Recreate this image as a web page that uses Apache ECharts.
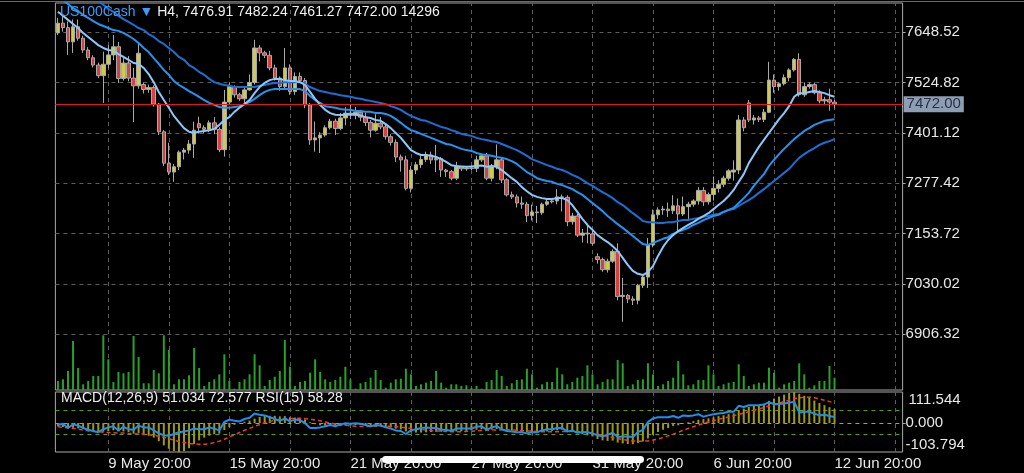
<!DOCTYPE html>
<html>
<head>
<meta charset="utf-8">
<script src="https://cdn.jsdelivr.net/npm/echarts@6/dist/echarts.min.js"></script>
<style>
html,body{margin:0;padding:0;background:#000;}
#c{width:1024px;height:473px;}
</style>
</head>
<body>
<div id="c"></div>
<script>
// ---------- data ----------
const symbolName = 'US100Cash';
const timeframe = 'H4';
const tradingDays = ['8 May','9 May','10 May','13 May','14 May','15 May','16 May','17 May','20 May','21 May','22 May','23 May','24 May','27 May','28 May','29 May','30 May','31 May','3 Jun','4 Jun','5 Jun','6 Jun','7 Jun','10 Jun','11 Jun','12 Jun','13 Jun','14 Jun','17 Jun'];
const barHours = ['00:00','04:00','08:00','12:00','16:00','20:00'];

const opens = [
7647,7671,7660,7625,7662,7634,7605,7586,7568,7542,
7570,7593,7613,7535,7573,7536,7517,7520,7508,7513,
7472,7404,7327,7305,7318,7354,7359,7374,7424,7414,
7410,7426,7410,7360,7477,7515,7495,7485,7507,7525,
7610,7598,7592,7561,7536,7515,7561,7503,7540,7530,
7470,7384,7389,7396,7414,7430,7412,7438,7450,7445,
7452,7440,7427,7408,7425,7416,7392,7378,7342,7335,
7265,7310,7323,7336,7347,7335,7338,7310,7306,7290,
7318,7313,7315,7314,7335,7345,7290,7318,7335,7286,
7249,7244,7229,7226,7198,7207,7205,7226,7232,7234,
7244,7243,7183,7197,7150,7155,7153,7097,7090,7065,
7086,7110,6999,7002,6993,6990,7027,7047,7126,7200,
7212,7214,7210,7222,7202,7220,7226,7234,7260,7232,
7250,7265,7275,7290,7305,7310,7433,7475,7433,7438,
7434,7452,7531,7515,7522,7537,7556,7582,7495,7515,
7520,7500,7480,7483,7476.91];
const highs = [
7684,7690,7675,7680,7680,7640,7612,7592,7574,7601,
7617,7642,7625,7585,7590,7561,7622,7525,7520,7518,
7475,7408,7377,7325,7358,7364,7384,7429,7441,7420,
7432,7440,7415,7507,7525,7518,7500,7512,7545,7630,
7617,7603,7603,7569,7540,7610,7570,7550,7550,7536,
7475,7429,7403,7420,7436,7436,7450,7465,7470,7465,
7458,7451,7433,7447,7440,7425,7398,7385,7348,7345,
7320,7330,7345,7355,7355,7372,7342,7313,7310,7330,
7320,7320,7320,7345,7350,7352,7325,7373,7340,7290,
7257,7250,7245,7232,7225,7222,7230,7240,7240,7263,
7250,7248,7205,7203,7165,7178,7160,7105,7095,7092,
7115,7130,7045,7005,7000,7030,7052,7143,7213,7218,
7222,7230,7248,7240,7245,7232,7238,7268,7268,7255,
7294,7285,7296,7312,7334,7445,7440,7482,7445,7443,
7460,7576,7545,7525,7545,7560,7585,7597,7525,7525,
7525,7506,7490,7510,7482.24];
const lows = [
7642,7650,7593,7598,7628,7598,7580,7562,7536,7475,
7560,7580,7524,7530,7528,7428,7510,7498,7500,7466,
7396,7320,7298,7281,7310,7336,7350,7340,7400,7400,
7403,7398,7354,7343,7472,7488,7480,7475,7505,7520,
7577,7585,7555,7530,7505,7510,7495,7495,7525,7462,
7372,7355,7352,7392,7410,7396,7408,7420,7435,7435,
7430,7418,7390,7404,7410,7385,7370,7330,7306,7260,
7255,7300,7315,7330,7325,7305,7293,7293,7285,7285,
7308,7308,7310,7305,7330,7285,7282,7312,7278,7245,
7239,7218,7215,7182,7186,7180,7200,7222,7228,7226,
7208,7172,7176,7145,7132,7130,7125,7080,7060,7058,
7082,6990,6937,6983,6978,6980,7020,7020,7120,7190,
7200,7195,7202,7155,7197,7190,7220,7225,7222,7225,
7235,7255,7268,7284,7284,7300,7405,7428,7422,7428,
7428,7450,7500,7505,7518,7528,7552,7490,7490,7510,
7496,7474,7472,7456,7461.27];
const closes = [
7671,7660,7625,7662,7634,7605,7586,7568,7542,7570,
7593,7613,7535,7573,7536,7517,7597,7508,7513,7472,
7404,7327,7305,7318,7354,7359,7374,7408,7414,7410,
7426,7410,7360,7477,7515,7495,7485,7507,7525,7610,
7598,7592,7561,7536,7515,7561,7503,7540,7530,7470,
7384,7389,7396,7414,7430,7412,7438,7450,7445,7452,
7440,7427,7408,7425,7416,7392,7378,7342,7335,7265,
7310,7323,7336,7347,7335,7338,7310,7306,7290,7318,
7313,7315,7314,7335,7345,7290,7318,7335,7286,7249,
7244,7229,7226,7198,7207,7205,7226,7232,7234,7244,
7243,7183,7197,7150,7155,7153,7130,7090,7065,7086,
7110,6999,7002,6993,6990,7027,7047,7126,7200,7212,
7214,7210,7222,7202,7220,7226,7234,7260,7232,7250,
7265,7275,7290,7308,7310,7433,7414,7433,7438,7434,
7452,7531,7515,7522,7537,7556,7582,7495,7515,7520,
7500,7480,7483,7477,7472.00];
const volumes = [
10440,12410,22040,56840,25520,6610,10440,16240,16240,63450,
35610,9280,20880,19370,20880,62640,38280,7770,7770,23200,
19370,63450,46400,6610,12410,12410,17050,48720,25520,4640,
9280,12410,18210,41410,10440,1510,9280,12410,18210,41410,
28650,4640,11600,15430,22040,58000,27030,4640,9280,10440,
20070,35610,20880,12410,9280,11600,15430,27030,12410,1510,
7770,9280,14270,23200,11600,2670,8470,12410,13110,24710,
18210,4640,6610,8470,10440,22040,8470,2670,6610,6610,
4640,5450,2670,4640,1510,9280,11600,23200,16240,4640,
7770,11600,12410,24710,18210,2670,6610,9280,9280,25870,
18210,6610,9280,14270,16240,28650,18210,6610,9280,12410,
12410,34800,30970,4640,6610,11600,12410,30970,18210,4640,
6610,10440,14270,33640,18210,5450,6610,11600,11600,28650,
18210,4640,6610,8470,9280,29810,16240,4640,6610,8470,
8470,25870,20070,2670,6610,8470,10440,30970,18210,2670,
5450,10440,10440,27840,14296];
const maFast = [
7699,7689,7679,7669,7659,7647,7637,7627,7617,7610,
7605,7603,7595,7588,7581,7573,7571,7561,7546,7526,
7502,7482,7463,7443,7428,7413,7404,7401,7404,7406,
7408,7411,7421,7433,7440,7453,7463,7472,7482,7499,
7514,7524,7531,7534,7534,7531,7529,7529,7526,7519,
7502,7485,7470,7458,7450,7446,7445,7446,7447,7446,
7444,7440,7438,7433,7431,7423,7413,7401,7389,7374,
7359,7352,7347,7347,7345,7342,7337,7330,7322,7320,
7319,7318,7319,7320,7321,7318,7320,7318,7310,7300,
7290,7281,7268,7258,7249,7244,7241,7239,7239,7241,
7241,7236,7224,7207,7190,7175,7163,7150,7141,7133,
7123,7111,7094,7077,7062,7055,7052,7059,7074,7099,
7121,7138,7150,7160,7168,7175,7182,7190,7197,7204,
7214,7224,7234,7246,7261,7281,7300,7327,7347,7367,
7384,7401,7418,7435,7450,7467,7490,7499,7499,7502,
7504,7502,7499,7494,7490];
const maMid = [
7738,7728,7718,7708,7701,7691,7684,7676,7669,7664,
7659,7654,7652,7647,7640,7632,7622,7610,7600,7585,
7571,7556,7544,7529,7519,7512,7504,7497,7490,7482,
7475,7470,7465,7463,7463,7465,7467,7472,7477,7485,
7494,7502,7507,7509,7509,7509,7509,7509,7509,7504,
7492,7482,7475,7467,7465,7463,7460,7458,7458,7455,
7455,7453,7453,7450,7450,7448,7443,7435,7426,7416,
7408,7404,7399,7394,7389,7384,7379,7374,7372,7367,
7362,7359,7357,7352,7349,7347,7345,7342,7340,7337,
7332,7325,7315,7305,7298,7290,7286,7283,7281,7276,
7273,7268,7263,7256,7249,7239,7229,7219,7209,7197,
7187,7177,7168,7158,7148,7138,7128,7126,7131,7136,
7141,7145,7153,7158,7163,7168,7175,7180,7187,7192,
7197,7200,7207,7212,7217,7229,7241,7254,7271,7286,
7300,7320,7335,7349,7362,7374,7386,7396,7406,7413,
7421,7426,7431,7433,7435];
const maSlow = [
7789,7782,7772,7765,7757,7748,7740,7733,7726,7716,
7706,7699,7689,7681,7674,7667,7659,7654,7644,7637,
7627,7620,7610,7600,7588,7581,7568,7561,7551,7544,
7534,7526,7522,7519,7517,7514,7514,7514,7514,7514,
7517,7519,7522,7524,7524,7526,7526,7526,7526,7522,
7514,7509,7504,7502,7499,7497,7494,7492,7490,7487,
7485,7482,7480,7477,7475,7472,7467,7463,7458,7450,
7443,7438,7433,7431,7426,7421,7416,7413,7408,7404,
7399,7396,7394,7389,7386,7384,7381,7379,7374,7369,
7364,7359,7352,7345,7337,7332,7327,7322,7318,7313,
7310,7305,7298,7293,7286,7278,7271,7263,7256,7249,
7241,7231,7224,7214,7204,7195,7185,7182,7182,7180,
7180,7182,7182,7185,7187,7187,7190,7192,7195,7197,
7200,7202,7207,7212,7214,7222,7229,7236,7244,7254,
7263,7273,7283,7293,7303,7313,7327,7340,7349,7357,
7364,7372,7377,7381,7386];
const macdMain = [
-12,-14,-17,-17,-19,-21,-25,-28,-32,-31,
-29,-26,-30,-30,-32,-38,-36,-40,-45,-52,
-65,-80,-92,-100,-103.794,-100,-90,-75,-62,-52,
-45,-40,-38,-25,-14,-6,0,5,9,16,
22,25,26,26,24,25,21,20,18,13,
3,-4,-8,-10,-11,-12,-11,-9,-8,-7,
-7,-8,-10,-11,-12,-14,-16,-20,-23,-30,
-33,-34,-34,-33,-32,-31,-31,-31,-31,-30,
-29,-28,-26,-24,-22,-24,-23,-21,-23,-27,
-27,-29,-31,-33,-33,-33,-32,-30,-28,-26,
-24,-28,-30,-35,-40,-44,-48,-57,-62,-64,
-63,-70,-73,-75,-76,-72,-66,-55,-42,-32,
-24,-18,-11,-8,-2,3,7,12,14,17,
21,25,28,32,35,46,52,58,62,65,
68,80,88,95,102,108,111.544,105,98,90,
81,72,64,57,51.034];
const macdSignal = [
-13,-15,-17,-19,-22,-25,-28,-30,-31,-33,
-34,-35,-36,-36,-37,-38,-39,-40,-42,-44,
-47,-51,-56,-61,-66,-70,-73,-75,-76,-76,
-74,-70,-65,-58,-50,-42,-34,-26,-19,-12,
-5,1,6,10,13,15,16,17,17,16,
14,11,8,4,0,-3,-6,-8,-10,-11,
-12,-12,-12,-11,-11,-11,-12,-13,-15,-17,
-19,-21,-23,-25,-27,-28,-29,-30,-31,-31,
-31,-30,-29,-28,-27,-26,-25,-25,-24,-24,
-25,-26,-27,-28,-29,-30,-31,-31,-31,-31,
-30,-30,-30,-31,-32,-34,-37,-40,-44,-48,
-52,-56,-59,-62,-64,-65,-65,-64,-61,-57,
-52,-46,-40,-33,-26,-19,-13,-7,-1,4,
9,14,18,22,26,31,36,41,46,51,
56,61,66,71,77,82,87,91,93,93,
91,87,82,77,72.577];
const rsiValues = [
45,47,40,46,44,40,37,35,33,38,
41,43,36,42,38,37,44,41,41,36,
31,28,27,30,33,34,36,39,38,38,
41,39,36,50,54,52,51,55,57,64,
62,61,58,55,52,56,51,54,53,48,
40,40,41,43,45,43,46,48,47,48,
47,45,43,45,44,41,39,36,35,30,
36,38,40,41,40,40,37,37,35,39,
39,39,39,42,43,37,41,43,38,35,
34,33,33,31,33,33,36,38,38,40,
40,34,36,32,33,33,31,28,26,29,
32,25,26,26,25,33,37,50,56,58,
58,58,60,57,61,60,61,63,59,61,
63,64,65,67,67,77,75,78,78,78,
79,83,80,80,81,82,84,66,67,67,
64,61,62,60,58.28];

const priceTicks = [6906.32, 7030.02, 7153.72, 7277.42, 7401.12, 7524.82, 7648.52];
const priceMin = 6769.43, priceMax = 7720.53;
const macdMin = -103.794, macdMax = 111.544;
const rsiLevels = [30, 70];
const bidPrice = 7472.00;

// ---------- build ----------
const FONT = "'Liberation Sans', Arial, sans-serif";
const N_SLOTS = 168;
const allSlots = [];
tradingDays.forEach(d => barHours.forEach(h => allSlots.push(d + ' ' + h)));
const categories = allSlots.slice(1, 1 + N_SLOTS);
const candleData = opens.map((o, i) => [o, closes[i], lows[i], highs[i]]);
const last = opens.length - 1;
const firstLabelIdx = 10, labelStep = 24, gridStep = 12;
const vLines = [];
for (let k = firstLabelIdx % gridStep; k < N_SLOTS; k += gridStep) vLines.push({ xAxis: k });

const plotLeft = 55.4, plotWidth = 847.2;
const mainTop = 3, mainHeight = 387;
const volumeMax = 448920;

const vGrid = {
  silent: true, symbol: ['none', 'none'], animation: false, z: 0,
  label: { show: false },
  lineStyle: { color: '#5e5e5e', type: [4, 4], width: 1 },
  data: vLines
};
const dash = { color: '#5e5e5e', type: [4, 4], width: 1 };
const lblStyle = { color: '#e8e8e8', fontSize: 15, fontFamily: FONT };

const titleText = '{s|' + symbolName + ' \u25BC} ' + timeframe + ', ' +
  opens[last].toFixed(2) + ' ' + highs[last].toFixed(2) + ' ' + lows[last].toFixed(2) + ' ' +
  closes[last].toFixed(2) + ' ' + volumes[last];
const macdText = 'MACD(12,26,9) ' + macdMain[last].toFixed(3) + ' ' + macdSignal[last].toFixed(3) +
  ' RSI(15) ' + rsiValues[last].toFixed(2);

const chart = echarts.init(document.getElementById('c'), null, { renderer: 'canvas' });
chart.setOption({
  backgroundColor: '#000000',
  animation: false,
  title: [
    { left: 60, top: 5, padding: 0, text: titleText,
      textStyle: { color: '#f0f0f0', fontSize: 14, fontWeight: 'normal', fontFamily: FONT,
        rich: { s: { color: '#3a9ff5', fontSize: 14, fontFamily: FONT } } } },
    { left: 61, top: 391, padding: 0, text: macdText,
      textStyle: { color: '#f0f0f0', fontSize: 14, fontWeight: 'normal', fontFamily: FONT } }
  ],
  grid: [
    { left: plotLeft, top: mainTop, width: plotWidth, height: mainHeight, show: true, borderColor: '#a8a8a8', borderWidth: 1, backgroundColor: 'transparent' },
    { left: plotLeft, top: 392, width: plotWidth, height: 60, show: true, borderColor: '#a8a8a8', borderWidth: 1, backgroundColor: 'transparent' }
  ],
  xAxis: [
    { gridIndex: 0, type: 'category', data: categories, boundaryGap: true, show: false },
    { gridIndex: 1, type: 'category', data: categories, boundaryGap: true,
      axisLine: { show: false }, axisTick: { show: false }, splitLine: { show: false },
      axisLabel: Object.assign({ interval: (i) => i >= firstLabelIdx && (i - firstLabelIdx) % labelStep === 0,
        align: 'left', margin: 4, hideOverlap: false }, lblStyle) }
  ],
  yAxis: [
    { gridIndex: 0, type: 'value', position: 'right', min: priceMin, max: priceMax,
      axisLine: { show: false },
      axisTick: { show: true, length: 3, customValues: priceTicks, lineStyle: { color: '#aaaaaa' } },
      axisLabel: Object.assign({ customValues: priceTicks, formatter: v => v.toFixed(2), margin: 3 }, lblStyle),
      splitLine: { show: true, lineStyle: dash } },
    { gridIndex: 0, type: 'value', show: false, min: 0, max: volumeMax },
    { gridIndex: 1, type: 'value', position: 'right', min: macdMin, max: macdMax,
      axisLine: { show: false },
      axisTick: { show: true, length: 3, customValues: [0], lineStyle: { color: '#aaaaaa' } },
      axisLabel: Object.assign({ customValues: [0], formatter: v => v.toFixed(3), margin: 3 }, lblStyle),
      splitLine: { show: true, lineStyle: { color: '#9a9a9a', type: [4, 4], width: 1 } } },
    { gridIndex: 1, type: 'value', position: 'right', min: macdMin, max: macdMax,
      axisLine: { show: false }, axisTick: { show: false }, splitLine: { show: false },
      axisLabel: Object.assign({ customValues: [macdMax], formatter: v => v.toFixed(3), margin: 6, verticalAlign: 'top' }, lblStyle) },
    { gridIndex: 1, type: 'value', position: 'right', min: macdMin, max: macdMax,
      axisLine: { show: false }, axisTick: { show: false }, splitLine: { show: false },
      axisLabel: Object.assign({ customValues: [macdMin], formatter: v => v.toFixed(3), margin: 3, verticalAlign: 'bottom' }, lblStyle) },
    { gridIndex: 1, type: 'value', position: 'left', min: 0, max: 100,
      axisLine: { show: false }, axisTick: { show: false, customValues: rsiLevels },
      axisLabel: { show: false, customValues: rsiLevels },
      splitLine: { show: true, lineStyle: { color: '#5aa012', type: [4, 4], width: 1 } } }
  ],
  series: [
    { name: 'Volume', type: 'bar', xAxisIndex: 0, yAxisIndex: 1, data: volumes, barWidth: 2,
      itemStyle: { color: '#27a127' }, z: 1, silent: true, markLine: vGrid },
    { name: 'Price', type: 'candlestick', xAxisIndex: 0, yAxisIndex: 0, data: candleData, barWidth: 4, z: 3,
      itemStyle: { color: '#cfcb48', color0: '#d24440', borderColor: '#a9a9a9', borderColor0: '#a9a9a9', borderWidth: 1 },
      markLine: { silent: true, symbol: ['none', 'none'], animation: false,
        lineStyle: { color: '#e01a1a', type: 'solid', width: 1 },
        label: { show: true, position: 'end', formatter: bidPrice.toFixed(2), color: '#27324a',
          backgroundColor: '#8d9db3', fontSize: 15, fontFamily: FONT, padding: [1, 3, 0, 3], distance: 1 },
        data: [{ yAxis: bidPrice }] } },
    { name: 'MA slow', type: 'line', xAxisIndex: 0, yAxisIndex: 0, data: maSlow, symbol: 'none', z: 4,
      lineStyle: { color: '#1a70d6', width: 2 } },
    { name: 'MA mid', type: 'line', xAxisIndex: 0, yAxisIndex: 0, data: maMid, symbol: 'none', z: 4,
      lineStyle: { color: '#2394f2', width: 2 } },
    { name: 'MA fast', type: 'line', xAxisIndex: 0, yAxisIndex: 0, data: maFast, symbol: 'none', z: 4,
      lineStyle: { color: '#8cc8fa', width: 2 } },
    { name: 'MACD', type: 'bar', xAxisIndex: 1, yAxisIndex: 2, data: macdMain, barWidth: 2,
      itemStyle: { color: '#9c9a12' }, z: 1, silent: true, markLine: vGrid },
    { name: 'Signal', type: 'line', xAxisIndex: 1, yAxisIndex: 2, data: macdSignal, symbol: 'none', z: 4,
      lineStyle: { color: '#f03a2e', width: 1.5, type: [4, 3] } },
    { name: 'RSI', type: 'line', xAxisIndex: 1, yAxisIndex: 5, data: rsiValues, symbol: 'none', z: 5,
      lineStyle: { color: '#1e8ff5', width: 2 } }
  ],
  graphic: [
    { type: 'line', shape: { x1: 0, y1: 1.5, x2: 1024, y2: 1.5 }, style: { stroke: '#6a6a6a', lineWidth: 1 }, silent: true },
    { type: 'rect', shape: { x: 382, y: 456, width: 262, height: 7, r: 3.5 }, style: { fill: '#ffffff' }, silent: true, z: 100 }
  ]
});
</script>
</body>
</html>
